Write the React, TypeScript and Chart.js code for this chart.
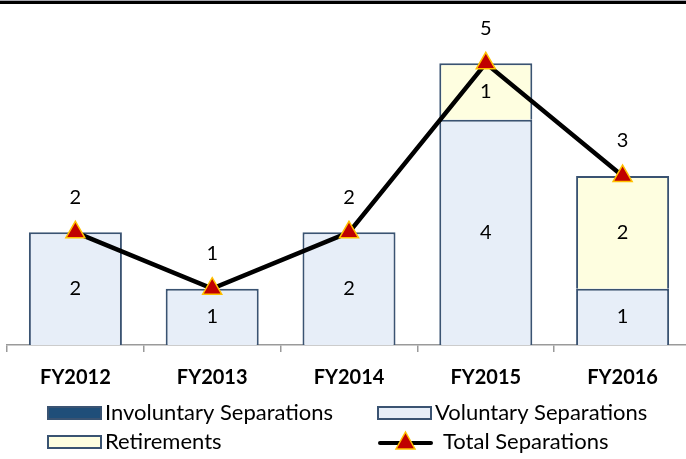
import React, { useEffect, useRef } from "react";
import { Chart, registerables } from "chart.js";

Chart.register(...registerables);

const categories = ["FY2012", "FY2013", "FY2014", "FY2015", "FY2016"];
const involuntary = [0, 0, 0, 0, 0];
const voluntary = [2, 1, 2, 4, 1];
const retirements = [0, 0, 0, 1, 2];
const totals = [2, 1, 2, 5, 3];
const seriesNames = ["Involuntary Separations", "Voluntary Separations", "Retirements", "Total Separations"];

const FONT = "Lato, 'Open Sans', sans-serif";
const BORDER = "#3a5372";

const labelsPlugin = {
  id: "valueLabels",
  afterDatasetsDraw(chart: any) {
    const ctx = chart.ctx;
    ctx.save();
    ctx.fillStyle = "#000";
    ctx.textAlign = "center";
    ctx.textBaseline = "middle";
    ctx.font = `20px ${FONT}`;
    chart.data.datasets.forEach((ds: any, di: number) => {
      const meta = chart.getDatasetMeta(di);
      meta.data.forEach((el: any, i: number) => {
        const v = ds.data[i];
        if (ds.type === "line") {
          ctx.fillText(String(v), el.x, el.y - 35);
        } else if (v) {
          ctx.fillText(String(v), el.x, (el.y + el.base) / 2);
        }
      });
    });
    ctx.restore();
  },
};

const legendPlugin = {
  id: "customLegend",
  afterDraw(chart: any) {
    const ctx = chart.ctx;
    const ds = chart.data.datasets;
    ctx.save();
    ctx.font = `22px ${FONT}`;
    ctx.textBaseline = "middle";
    ctx.fillStyle = "#000";
    const boxes = [
      { d: ds[0], x: 48, y: 407 },
      { d: ds[1], x: 378, y: 407 },
      { d: ds[2], x: 48, y: 436 },
    ];
    boxes.forEach((b) => {
      ctx.fillStyle = b.d.backgroundColor;
      ctx.fillRect(b.x, b.y, 53, 12);
      ctx.strokeStyle = b.d.borderColor;
      ctx.lineWidth = 2;
      ctx.strokeRect(b.x, b.y, 53, 12);
      ctx.fillStyle = "#000";
      ctx.fillText(b.d.label, b.x + 57, b.y + 6);
    });
    const l = ds[3];
    ctx.strokeStyle = l.borderColor;
    ctx.lineWidth = 4;
    ctx.lineCap = "round";
    ctx.beginPath();
    ctx.moveTo(380, 443);
    ctx.lineTo(431, 443);
    ctx.stroke();
    ctx.fillStyle = l.pointBackgroundColor;
    ctx.strokeStyle = l.pointBorderColor;
    ctx.lineWidth = 1.5;
    ctx.beginPath();
    ctx.moveTo(405.5, 432);
    ctx.lineTo(415, 449);
    ctx.lineTo(396, 449);
    ctx.closePath();
    ctx.fill();
    ctx.stroke();
    ctx.fillStyle = "#000";
    ctx.fillText(l.label, 443, 442);
    ctx.restore();
  },
};

export default function App() {
  const ref = useRef<HTMLCanvasElement>(null);
  useEffect(() => {
    document.body.style.margin = "0";
    const barCommon = {
      type: "bar",
      borderColor: BORDER,
      borderWidth: 2,
      stack: "s",
      order: 1,
      barPercentage: 0.68,
      categoryPercentage: 1,
    };
    const chart = new Chart(ref.current!, {
      type: "bar",
      data: {
        labels: categories,
        datasets: [
          { ...barCommon, label: seriesNames[0], data: involuntary, backgroundColor: "#1f4e79" },
          { ...barCommon, label: seriesNames[1], data: voluntary, backgroundColor: "#e7eef8" },
          { ...barCommon, label: seriesNames[2], data: retirements, backgroundColor: "#fefee0" },
          {
            type: "line",
            label: seriesNames[3],
            data: totals,
            borderColor: "#000",
            borderWidth: 4.5,
            pointStyle: "triangle",
            pointRadius: 11,
            pointBackgroundColor: "#c00000",
            pointBorderColor: "#ffc000",
            pointBorderWidth: 1.5,
            order: 0,
            stack: "line",
          },
        ] as any,
      },
      options: {
        responsive: false,
        animation: false,
        devicePixelRatio: 1,
        layout: { autoPadding: false, padding: { left: 7, right: 1, top: 7, bottom: 0 } },
        plugins: { legend: { display: false }, tooltip: { enabled: false } },
        scales: {
          x: {
            stacked: true,
            offset: true,
            grid: { display: true, drawOnChartArea: false, offset: true, tickLength: 7, color: "#9a9a9a", lineWidth: 1.5 },
            border: { display: true, color: "#9a9a9a", width: 1.5 },
            ticks: { color: "#000", font: { family: FONT, size: 20, weight: "bold" }, padding: 14 },
            afterFit: (s: any) => {
              s.height = 114;
            },
          },
          y: {
            stacked: true,
            display: false,
            min: 0,
            max: 6,
          },
        },
      } as any,
      plugins: [labelsPlugin, legendPlugin],
    });
    return () => chart.destroy();
  }, []);
  return (
    <div style={{ position: "fixed", left: 0, top: 0, width: 686, height: 459, overflow: "hidden", background: "#fff" }}>
      <canvas ref={ref} width={692} height={459} style={{ display: "block" }} />
      <div style={{ position: "absolute", left: 0, top: 0, width: 686, height: 1, background: "#a8a8b0" }} />
      <div style={{ position: "absolute", left: 0, top: 1, width: 686, height: 3, background: "#000" }} />
    </div>
  );
}
